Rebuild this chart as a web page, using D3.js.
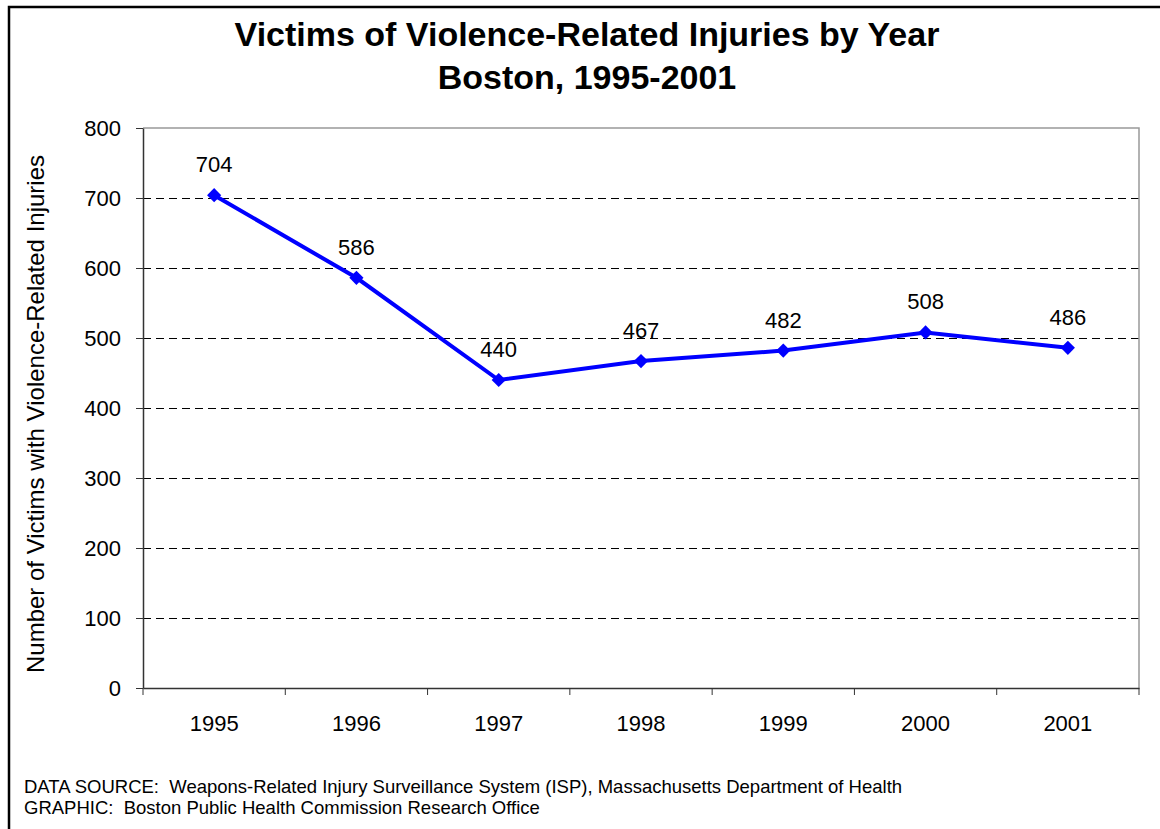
<!DOCTYPE html>
<html>
<head>
<meta charset="utf-8">
<script src="https://cdn.jsdelivr.net/npm/d3@7"></script>
<style>
  body { margin: 0; background: #fff; }
  svg { display: block; font-family: "Liberation Sans", Arial, sans-serif; }
  .note { white-space: pre; }
</style>
</head>
<body>
<div id="chart"></div>
<script>
// donnees du graphique
var years = ["1995", "1996", "1997", "1998", "1999", "2000", "2001"];
var victims = [704, 586, 440, 467, 482, 508, 486];
var yTicks = [0, 100, 200, 300, 400, 500, 600, 700, 800];
var titleLines = ["Victims of Violence-Related Injuries by Year", "Boston, 1995-2001"];
var yLabel = "Number of Victims with Violence-Related Injuries";
var notes = [
  "DATA SOURCE:  Weapons-Related Injury Surveillance System (ISP), Massachusetts Department of Health",
  "GRAPHIC:  Boston Public Health Commission Research Office"
];

var width = 1160, height = 829;
var plot = {left: 143, top: 128, right: 1139, bottom: 688};

var svg = d3.select("#chart").append("svg")
    .attr("width", width)
    .attr("height", height);

// cadre exterieur (seuls haut et gauche visibles)
svg.append("path")
    .attr("d", "M9,835 L9,7 L1170,7")
    .attr("fill", "none")
    .attr("stroke", "#000")
    .attr("stroke-width", 2.5);

// titre
svg.selectAll("text.title")
    .data(titleLines)
    .enter().append("text")
    .attr("class", "title")
    .attr("x", 587)
    .attr("y", function(d, i){ return 46 + i * 43; })
    .attr("text-anchor", "middle")
    .attr("font-weight", "bold")
    .attr("font-size", 34)
    .text(function(d){ return d; });

var x = d3.scaleBand().domain(years).range([plot.left, plot.right]);
var y = d3.scaleLinear().domain([0, 800]).range([plot.bottom, plot.top]);

// grille pointillee
svg.append("g")
    .selectAll("line")
    .data(yTicks.filter(function(d){ return d > 0 && d < 800; }))
    .enter().append("line")
    .attr("x1", plot.left)
    .attr("x2", plot.right)
    .attr("y1", function(d){ return y(d) + 0.5; })
    .attr("y2", function(d){ return y(d) + 0.5; })
    .attr("stroke", "#000")
    .attr("stroke-width", 1)
    .attr("stroke-dasharray", "8,5");

// bordure du plot (haut, droite)
svg.append("path")
    .attr("d", "M" + plot.left + "," + plot.top + " L" + plot.right + "," + plot.top + " L" + plot.right + "," + plot.bottom)
    .attr("fill", "none")
    .attr("stroke", "#999")
    .attr("stroke-width", 1.5);

// axe y
var yAxis = svg.append("g")
    .attr("transform", "translate(" + plot.left + ",0)")
    .call(d3.axisLeft(y).tickValues(yTicks).tickSize(7).tickPadding(15).tickSizeOuter(0));
yAxis.select(".domain").attr("stroke", "#333").attr("stroke-width", 1.5);
yAxis.selectAll(".tick line").attr("stroke", "#333");
yAxis.selectAll("text").attr("font-size", 22).attr("fill", "#000")
    .attr("font-family", "Liberation Sans, Arial, sans-serif");

// axe x : les graduations sont entre les categories
var xAxis = svg.append("g")
    .attr("transform", "translate(0," + plot.bottom + ")")
    .call(d3.axisBottom(x).tickSize(0).tickPadding(27).tickSizeOuter(0));
xAxis.select(".domain").attr("stroke", "#333").attr("stroke-width", 1.5);
xAxis.selectAll("text").attr("font-size", 22).attr("fill", "#000")
    .attr("font-family", "Liberation Sans, Arial, sans-serif");
xAxis.selectAll("line.sep")
    .data(d3.range(years.length + 1))
    .enter().append("line")
    .attr("class", "sep")
    .attr("x1", function(i){ return plot.left + i * x.step(); })
    .attr("x2", function(i){ return plot.left + i * x.step(); })
    .attr("y1", 0)
    .attr("y2", 7)
    .attr("stroke", "#333");

// titre axe y
svg.append("text")
    .attr("transform", "translate(44,414) rotate(-90)")
    .attr("text-anchor", "middle")
    .attr("font-size", 24)
    .text(yLabel);

var cx = function(d, i){ return x(years[i]) + x.bandwidth() / 2; };

// courbe
var line = d3.line()
    .x(function(d, i){ return cx(d, i); })
    .y(function(d){ return y(d); });

svg.append("path")
    .datum(victims)
    .attr("d", line)
    .attr("fill", "none")
    .attr("stroke", "#0000ff")
    .attr("stroke-width", 4);

// marqueurs en losange
svg.selectAll("path.mark")
    .data(victims)
    .enter().append("path")
    .attr("class", "mark")
    .attr("d", d3.symbol().type(d3.symbolDiamond2).size(128))
    .attr("transform", function(d, i){ return "translate(" + cx(d, i) + "," + y(d) + ")"; })
    .attr("fill", "#0000ff");

// etiquettes de valeurs
svg.selectAll("text.val")
    .data(victims)
    .enter().append("text")
    .attr("class", "val")
    .attr("x", function(d, i){ return cx(d, i); })
    .attr("y", function(d){ return y(d) - 23; })
    .attr("text-anchor", "middle")
    .attr("font-size", 22)
    .text(function(d){ return d; });

// notes de bas de page
svg.selectAll("text.note")
    .data(notes)
    .enter().append("text")
    .attr("class", "note")
    .attr("x", 24)
    .attr("y", function(d, i){ return 793 + i * 21; })
    .attr("font-size", 18.5)
    .text(function(d){ return d; });
</script>
</body>
</html>
